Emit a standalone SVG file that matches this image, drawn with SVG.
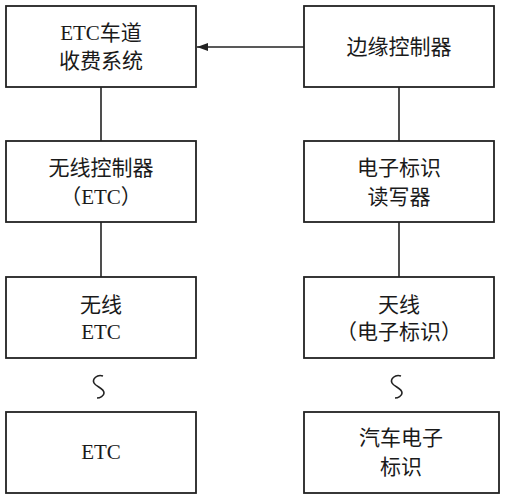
<svg xmlns="http://www.w3.org/2000/svg" width="505" height="500" viewBox="0 0 505 500">
<style>
.box{fill:#fff;stroke:#222;stroke-width:1.8}
.ln{fill:none;stroke:#222;stroke-width:1.6}
.t{font-family:"Liberation Serif","Noto Sans CJK SC",serif;font-size:21px;fill:#1a1a1a;text-anchor:middle}
</style>
<defs>
<marker id="ah" markerWidth="12" markerHeight="8" refX="11" refY="4" orient="auto" markerUnits="userSpaceOnUse">
<path d="M0,0 L11,4 L0,8 Z" fill="#222"/>
</marker>
</defs>
<rect width="505" height="500" fill="#fff"/>
<g id="connectors">
<line class="ln" x1="304" y1="47" x2="197" y2="47" marker-end="url(#ah)"/>
<line class="ln" x1="101" y1="87" x2="101" y2="141"/>
<line class="ln" x1="101" y1="222" x2="101" y2="277"/>
<line class="ln" x1="399" y1="87" x2="399" y2="141"/>
<line class="ln" x1="399" y1="222" x2="399" y2="277"/>
<path class="ln" d="M103,376 C97,374 92,379 94,383 C96,387 104,388 104,393 C104,396 100,398 97,398"/>
<path class="ln" d="M401,376 C395,374 390,379 392,383 C394,387 402,388 402,393 C402,396 398,398 395,398"/>
</g>
<g id="n1"><rect class="box" x="6" y="6" width="190" height="81"/>
<text class="t" x="101" y="40">ETC车道</text><text class="t" x="101" y="68">收费系统</text></g>
<g id="n2"><rect class="box" x="304" y="6" width="190" height="81"/>
<text class="t" x="399" y="54">边缘控制器</text></g>
<g id="n3"><rect class="box" x="6" y="141" width="190" height="81"/>
<text class="t" x="101" y="175">无线控制器</text><text class="t" x="101" y="204">（ETC）</text></g>
<g id="n4"><rect class="box" x="304" y="141" width="190" height="81"/>
<text class="t" x="399" y="175">电子标识</text><text class="t" x="399" y="204">读写器</text></g>
<g id="n5"><rect class="box" x="6" y="277" width="190" height="81"/>
<text class="t" x="101" y="312">无线</text><text class="t" x="101" y="339">ETC</text></g>
<g id="n6"><rect class="box" x="304" y="277" width="190" height="81"/>
<text class="t" x="399" y="312">天线</text><text class="t" x="399" y="339">（电子标识）</text></g>
<g id="n7"><rect class="box" x="6" y="412" width="190" height="81"/>
<text class="t" x="101" y="459">ETC</text></g>
<g id="n8"><rect class="box" x="304" y="412" width="195" height="81"/>
<text class="t" x="401" y="445">汽车电子</text><text class="t" x="401" y="474">标识</text></g>
</svg>
